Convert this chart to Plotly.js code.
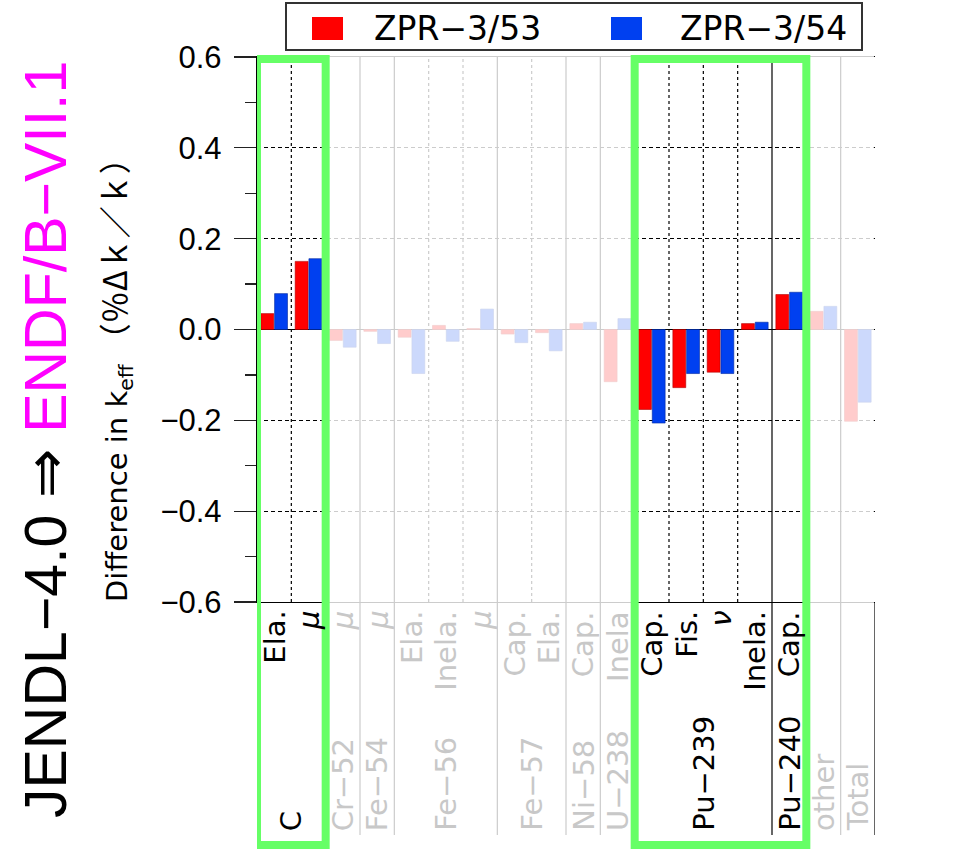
<!DOCTYPE html>
<html>
<head>
<meta charset="utf-8">
<script src="https://cdn.plot.ly/plotly-3.0.1.min.js"></script>
<style>
  html, body { margin: 0; padding: 0; background: #ffffff; }
  #chart { width: 980px; height: 850px; }
</style>
</head>
<body>
<div id="chart"></div>
<script>
// Sensitivity breakdown: change in k_eff per nuclide / reaction
const nuclides = ["C", "C", "Cr−52", "Fe−54", "Fe−56", "Fe−56", "Fe−56", "Fe−57", "Fe−57",
                  "Ni−58", "U−238", "Pu−239", "Pu−239", "Pu−239", "Pu−239", "Pu−240", "other", "Total"];
const reactions = ["Ela.", "<i>μ</i>", "<i>μ</i>", "<i>μ</i>", "Ela.", "Inela.", "<i>μ</i>", "Cap.", "Ela.",
                   "Cap.", "Inela", "Cap.", "Fis.", "<i>ν</i>", "Inela.", "Cap.", "", ""];
const seriesNames = ["ZPR−3/53", "ZPR−3/54"];
const zpr53 = [0.035, 0.150, -0.024, -0.004, -0.017, 0.009, 0.002, -0.010, -0.007,
               0.013, -0.115, -0.176, -0.128, -0.094, 0.013, 0.077, 0.040, -0.202];
const zpr54 = [0.079, 0.156, -0.039, -0.031, -0.097, -0.026, 0.045, -0.029, -0.047,
               0.016, 0.024, -0.206, -0.097, -0.097, 0.016, 0.082, 0.051, -0.160];
const highlighted = ["C", "Pu−239", "Pu−240"];
const yTickVals = [-0.6, -0.4, -0.2, 0.0, 0.2, 0.4, 0.6];

// ---- page geometry (pixels) ----
const W = 980, H = 850;
const L = 257, R = 875, T = 57, B = 602;
const px2x = p => (p - L) / (R - L);
const px2y = p => (B - p) / (B - T);
const LABEL_TOP = 609, LABEL_BOTTOM = 835;

const idx = nuclides.map((_, i) => i);
const isHi = i => highlighted.includes(nuclides[i]);
const DIM = "#c8c8c8";
const seriesColors = ["#ff0000", "#0040f0"];

const traces = [zpr53, zpr54].map((vals, k) => ({
  type: "bar",
  name: seriesNames[k],
  x: idx,
  y: vals,
  marker: { color: seriesColors[k], line: { color: k === 0 ? "#b00000" : "#0028a0", width: 0.6 } },
  hoverinfo: "x+y",
  showlegend: false
}));

const shapes = [];
// separators between categories: solid between nuclides (running into the label strip), dotted inside a nuclide
for (let i = 0; i < idx.length - 1; i++) {
  const xb = i + 0.5;
  if (nuclides[i] !== nuclides[i + 1]) {
    shapes.push({ type: "line", xref: "x", yref: "paper", x0: xb, x1: xb, y0: px2y(LABEL_BOTTOM), y1: 1,
                  line: { color: "#000", width: 1.2 }, layer: "above" });
  } else {
    shapes.push({ type: "line", xref: "x", yref: "paper", x0: xb, x1: xb, y0: 0, y1: 1,
                  line: { color: "#000", width: 1.2, dash: "3px,3px" }, layer: "above" });
  }
}
// right frame continues down through the label strip
shapes.push({ type: "line", xref: "x", yref: "paper", x0: idx.length - 0.5, x1: idx.length - 0.5,
              y0: px2y(LABEL_BOTTOM), y1: 0, line: { color: "#000", width: 1.2 }, layer: "above" });

// contiguous runs of highlighted / faded categories
function runs(test) {
  const out = [];
  let start = null;
  idx.forEach(i => {
    if (test(i) && start === null) start = i;
    if ((!test(i) || i === idx.length - 1) && start !== null) {
      out.push([start, test(i) ? i : i - 1]);
      start = null;
    }
  });
  return out;
}
// white veil over the faded categories
runs(i => !isHi(i)).forEach(([a, b]) => {
  shapes.push({ type: "rect", xref: "x", yref: "paper", x0: a - 0.5, x1: Math.min(b + 0.5, idx.length - 0.53),
                y0: px2y(LABEL_BOTTOM + 3), y1: px2y(T - 3),
                fillcolor: "rgba(255,255,255,0.8)", line: { width: 0 }, layer: "above" });
});
// green frames round the highlighted categories
runs(isHi).forEach(([a, b]) => {
  shapes.push({ type: "rect", xref: "x", yref: "paper", x0: a - 0.5, x1: b + 0.5,
                y0: px2y(845), y1: px2y(59),
                fillcolor: "rgba(0,0,0,0)", line: { color: "#66ff66", width: 8 }, layer: "above" });
});

// legend
const legBox = { x0: 286, x1: 862, y0: 3, y1: 50 };
shapes.push({ type: "rect", xref: "paper", yref: "paper",
              x0: px2x(legBox.x0), x1: px2x(legBox.x1), y0: px2y(legBox.y1), y1: px2y(legBox.y0),
              fillcolor: "#ffffff", line: { color: "#333", width: 2 }, layer: "above" });
const legItems = [{ sx: 312, tx: 372 }, { sx: 611, tx: 678 }];
legItems.forEach((it, k) => {
  shapes.push({ type: "rect", xref: "paper", yref: "paper",
                x0: px2x(it.sx), x1: px2x(it.sx + 31), y0: px2y(40), y1: px2y(17),
                fillcolor: seriesColors[k], line: { width: 0 }, layer: "above" });
});

const annotations = [];
legItems.forEach((it, k) => {
  annotations.push({ xref: "paper", yref: "paper", x: px2x(it.tx), y: px2y(28.5), xanchor: "left", yanchor: "middle",
                     text: seriesNames[k], showarrow: false,
                     font: { family: "DejaVu Sans, sans-serif", size: 33, color: "#000" } });
});

// reaction labels under each category
idx.forEach(i => {
  if (!reactions[i]) return;
  annotations.push({ xref: "x", yref: "paper", x: i, y: px2y(LABEL_TOP), xanchor: "center", yanchor: "top",
                     textangle: -90, text: reactions[i], showarrow: false,
                     font: { family: "DejaVu Sans, sans-serif", size: 29, color: isHi(i) ? "#000" : DIM } });
});
// nuclide labels at the foot of each group
const groups = [];
nuclides.forEach((n, i) => {
  const g = groups.find(gg => gg.name === n);
  if (g) g.members.push(i); else groups.push({ name: n, members: [i] });
});
groups.forEach(g => {
  const xc = g.members.reduce((s, v) => s + v, 0) / g.members.length;
  annotations.push({ xref: "x", yref: "paper", x: xc, y: px2y(LABEL_BOTTOM - 2), xanchor: "center", yanchor: "bottom",
                     textangle: -90, text: g.name, showarrow: false,
                     font: { family: "DejaVu Sans, sans-serif", size: 29, color: highlighted.includes(g.name) ? "#000" : DIM } });
});

// y-axis title
annotations.push({ xref: "paper", yref: "paper", x: px2x(114), y: px2y(372), xanchor: "center", yanchor: "middle",
                   textangle: -90, showarrow: false,
                   text: "Difference in k<sub>eff</sub>\u00a0<span style=\"font-family:Noto Sans CJK JP;font-size:32px\">（％Δｋ／ｋ）</span>",
                   font: { family: "DejaVu Sans, sans-serif", size: 29, color: "#000" } });
// comparison title
annotations.push({ xref: "paper", yref: "paper", x: px2x(46), y: px2y(440), xanchor: "center", yanchor: "middle",
                   textangle: -90, showarrow: false,
                   text: "JENDL−4.0 ⇒ <span style=\"color:#ff00ff\">ENDF/B−VII.1</span>",
                   font: { family: "Liberation Sans, Arial, sans-serif", size: 59, color: "#000" } });

const yCommon = {
  range: [-0.6, 0.6],
  tickvals: yTickVals,
  tickformat: ".1f",
  ticks: "outside",
  ticklen: 22,
  tickwidth: 1.2,
  tickcolor: "#222",
  ticklabelstandoff: 6,
  tickfont: { family: "Liberation Sans, Arial, sans-serif", size: 31, color: "#000" },
  showline: true,
  linecolor: "#000",
  linewidth: 1.2,
  minor: { dtick: 0.1, tick0: 0, ticks: "outside", ticklen: 11, tickwidth: 1.2, tickcolor: "#222", showgrid: false },
  fixedrange: true
};

const layout = {
  width: W, height: H,
  margin: { l: L, r: W - R, t: T, b: H - B },
  paper_bgcolor: "#ffffff",
  plot_bgcolor: "#ffffff",
  font: { family: "Liberation Sans, Arial, sans-serif", color: "#000" },
  barmode: "group",
  bargap: 0.2,
  bargroupgap: 0.06,
  showlegend: false,
  xaxis: {
    range: [-0.5, idx.length - 0.5],
    showticklabels: false, ticks: "", showgrid: false, zeroline: false,
    showline: true, mirror: true, linecolor: "#000", linewidth: 1.2, fixedrange: true
  },
  yaxis: Object.assign({}, yCommon, {
    side: "left",
    showgrid: true, gridcolor: "#000", gridwidth: 1, griddash: "4px,3px",
    zeroline: true, zerolinecolor: "#000", zerolinewidth: 1.6
  }),
  yaxis2: Object.assign({}, yCommon, {
    side: "right", overlaying: "y", anchor: "x",
    showgrid: false, zeroline: false
  }),
  shapes: shapes,
  annotations: annotations
};

Plotly.newPlot("chart", traces, layout, { displayModeBar: false, staticPlot: true });
</script>
</body>
</html>
